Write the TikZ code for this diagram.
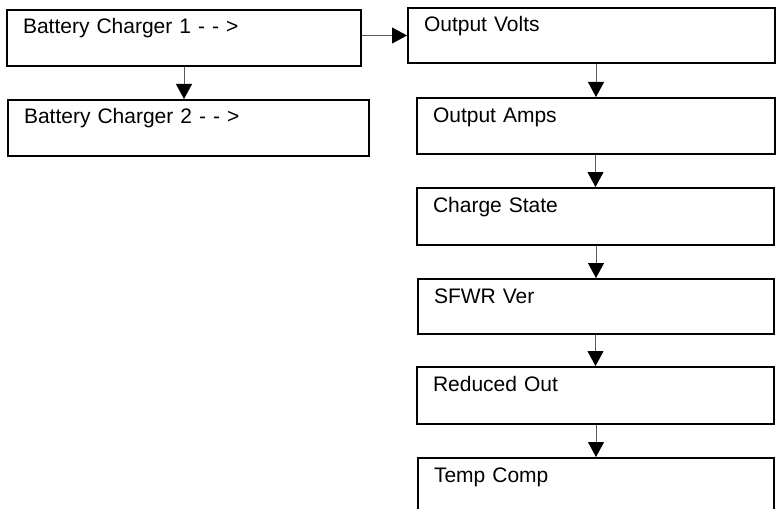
\documentclass[tikz,border=0pt]{standalone}
\usepackage{fontspec}
\setmainfont{Liberation Sans}
\usepackage{tikz}
\usetikzlibrary{arrows.meta}
\definecolor{menuLine}{RGB}{0,0,0}
\definecolor{menuArrow}{RGB}{90,90,90}
\tikzset{
  menubox/.style={draw=menuLine, line width=2pt, anchor=north west, align=left,
    inner xsep=16pt, inner ysep=0pt, text height=24pt, text depth=32pt,
    font=\fontsize{21}{25}\selectfont},
  flowarrow/.style={draw=menuArrow, line width=0.9pt,
    -{Triangle[length=15pt,width=16pt,color=black]}}
}

\begin{document}
\begin{tikzpicture}[x=1pt,y=1pt]
\path[use as bounding box, clip] (0,0) rectangle (778,-508);

% charger list
\node[menubox, text width=322pt] (bc1) at (6,-9) {Battery Charger 1 - - >};
\node[menubox, text width=329pt, text depth=32pt] (bc2) at (7,-99) {Battery Charger 2 - - >};

% charger 1 menu
\node[menubox, text width=335pt, text depth=31pt] (ov) at (407,-7) {Output Volts};
\node[menubox, text width=326pt] (oa) at (416,-97) {Output Amps};
\node[menubox, text width=325pt, text depth=33pt] (cs) at (416,-187) {Charge State};
\node[menubox, text width=324pt, text depth=31pt] (sv) at (417,-278) {SFWR Ver};
\node[menubox, text width=325pt, text depth=33pt] (ro) at (416,-366) {Reduced Out};
\node[menubox, text width=324pt, text depth=33pt] (tc) at (417,-457) {Temp Comp};

\draw[flowarrow] (bc1.south) -- (bc1.south |- bc2.north);
\draw[flowarrow] (bc1.east |- ov.west) -- (ov.west);
\foreach \a/\b in {ov/oa, oa/cs, cs/sv, sv/ro, ro/tc}
  \draw[flowarrow] (\b.north |- \a.south) -- (\b.north);
\end{tikzpicture}
\end{document}
